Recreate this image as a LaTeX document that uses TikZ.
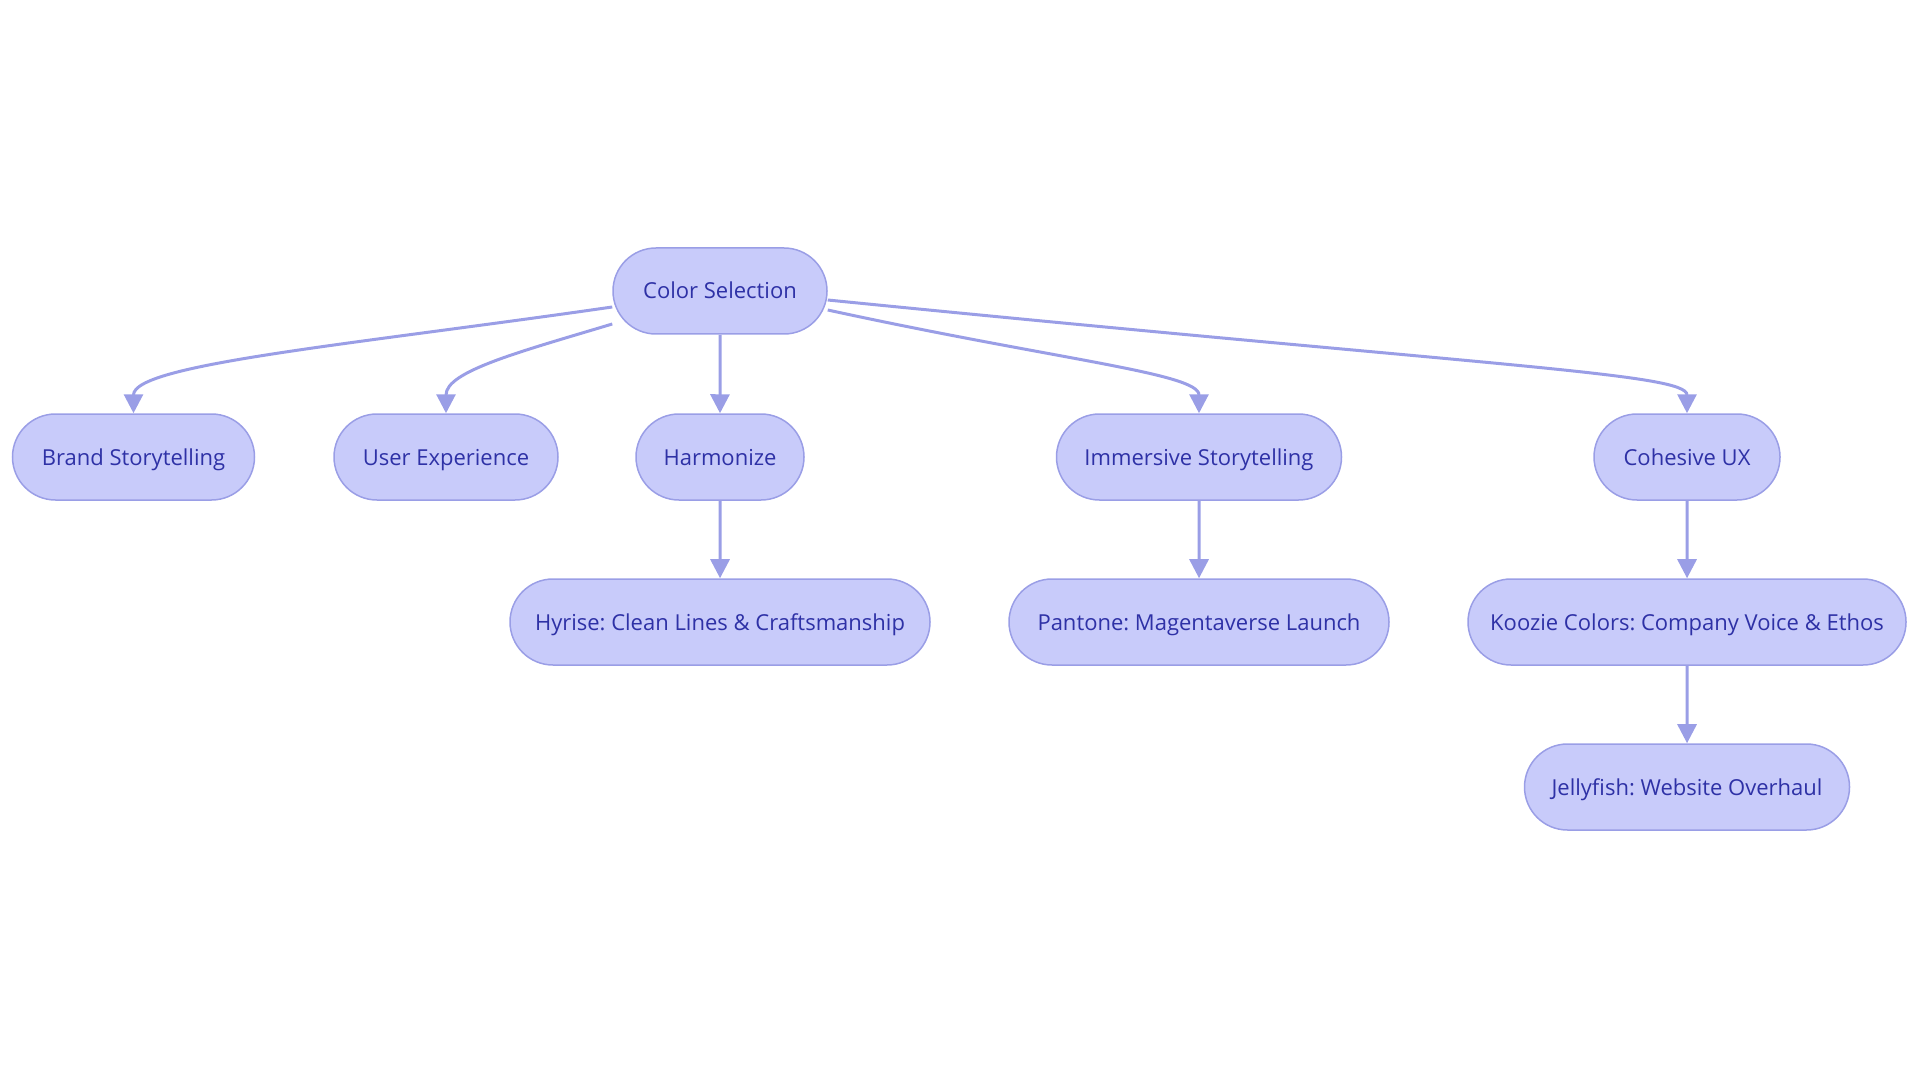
\documentclass[tikz,border=0pt]{standalone}
\usepackage{fontspec}
\setmainfont{Open Sans}
\usetikzlibrary{shapes.misc,arrows.meta}
\definecolor{pillfill}{HTML}{C8CBFA}
\definecolor{pillline}{HTML}{9A9EE6}
\definecolor{pilltext}{HTML}{2E31A6}
\frenchspacing

\begin{document}
\begin{tikzpicture}[x=0.5pt, y=-0.5pt,
  pill/.style={rounded rectangle, draw=pillline, line width=0.75pt, fill=pillfill, text=pilltext, minimum height=43pt, inner xsep=0pt, text height=8pt, text depth=0pt, font=\fontsize{11}{13}\selectfont},
  arr/.style={-{Triangle[length=9.5pt,width=9.5pt]}, line width=1.5pt, pillline}
]
  \useasboundingbox (0,0) rectangle (1920,1080);

  \node[pill, minimum width=107pt] (color) at (720,291) {Color Selection};
  \node[pill, minimum width=121pt] (brand) at (133.5,457) {Brand Storytelling};
  \node[pill, minimum width=112pt] (user) at (446,457) {User Experience};
  \node[pill, minimum width=84pt] (harmonize) at (720,457) {Harmonize};
  \node[pill, minimum width=142.5pt] (immersive) at (1199,457) {Immersive Storytelling};
  \node[pill, minimum width=93pt] (cohesive) at (1687,457) {Cohesive UX};
  \node[pill, minimum width=210pt] (hyrise) at (720,622) {Hyrise: Clean Lines \& Craftsmanship};
  \node[pill, minimum width=190pt] (pantone) at (1199,622) {Pantone: Magentaverse Launch};
  \node[pill, minimum width=219pt] (koozie) at (1687,622) {Koozie Colors: Company Voice \& Ethos};
  \node[pill, minimum width=162.5pt] (jellyfish) at (1687,787) {Jellyfish: Website Overhaul};

  \draw[arr] ([yshift=-8pt]color.west) .. controls +(-263,38) and +(0,-49) .. (brand.north);
  \draw[arr] ([yshift=-16.5pt]color.west) .. controls +(-93,28) and +(0,-42) .. (user.north);
  \draw[arr] (color) -- (harmonize);
  \draw[arr] ([yshift=-9.5pt]color.east) .. controls +(230,50) and +(0,-40) .. (immersive.north);
  \draw[arr] ([yshift=-4.5pt]color.east) .. controls +(670,67) and +(0,-40) .. (cohesive.north);
  \draw[arr] (harmonize) -- (hyrise);
  \draw[arr] (immersive) -- (pantone);
  \draw[arr] (cohesive) -- (koozie);
  \draw[arr] (koozie) -- (jellyfish);
\end{tikzpicture}
\end{document}
